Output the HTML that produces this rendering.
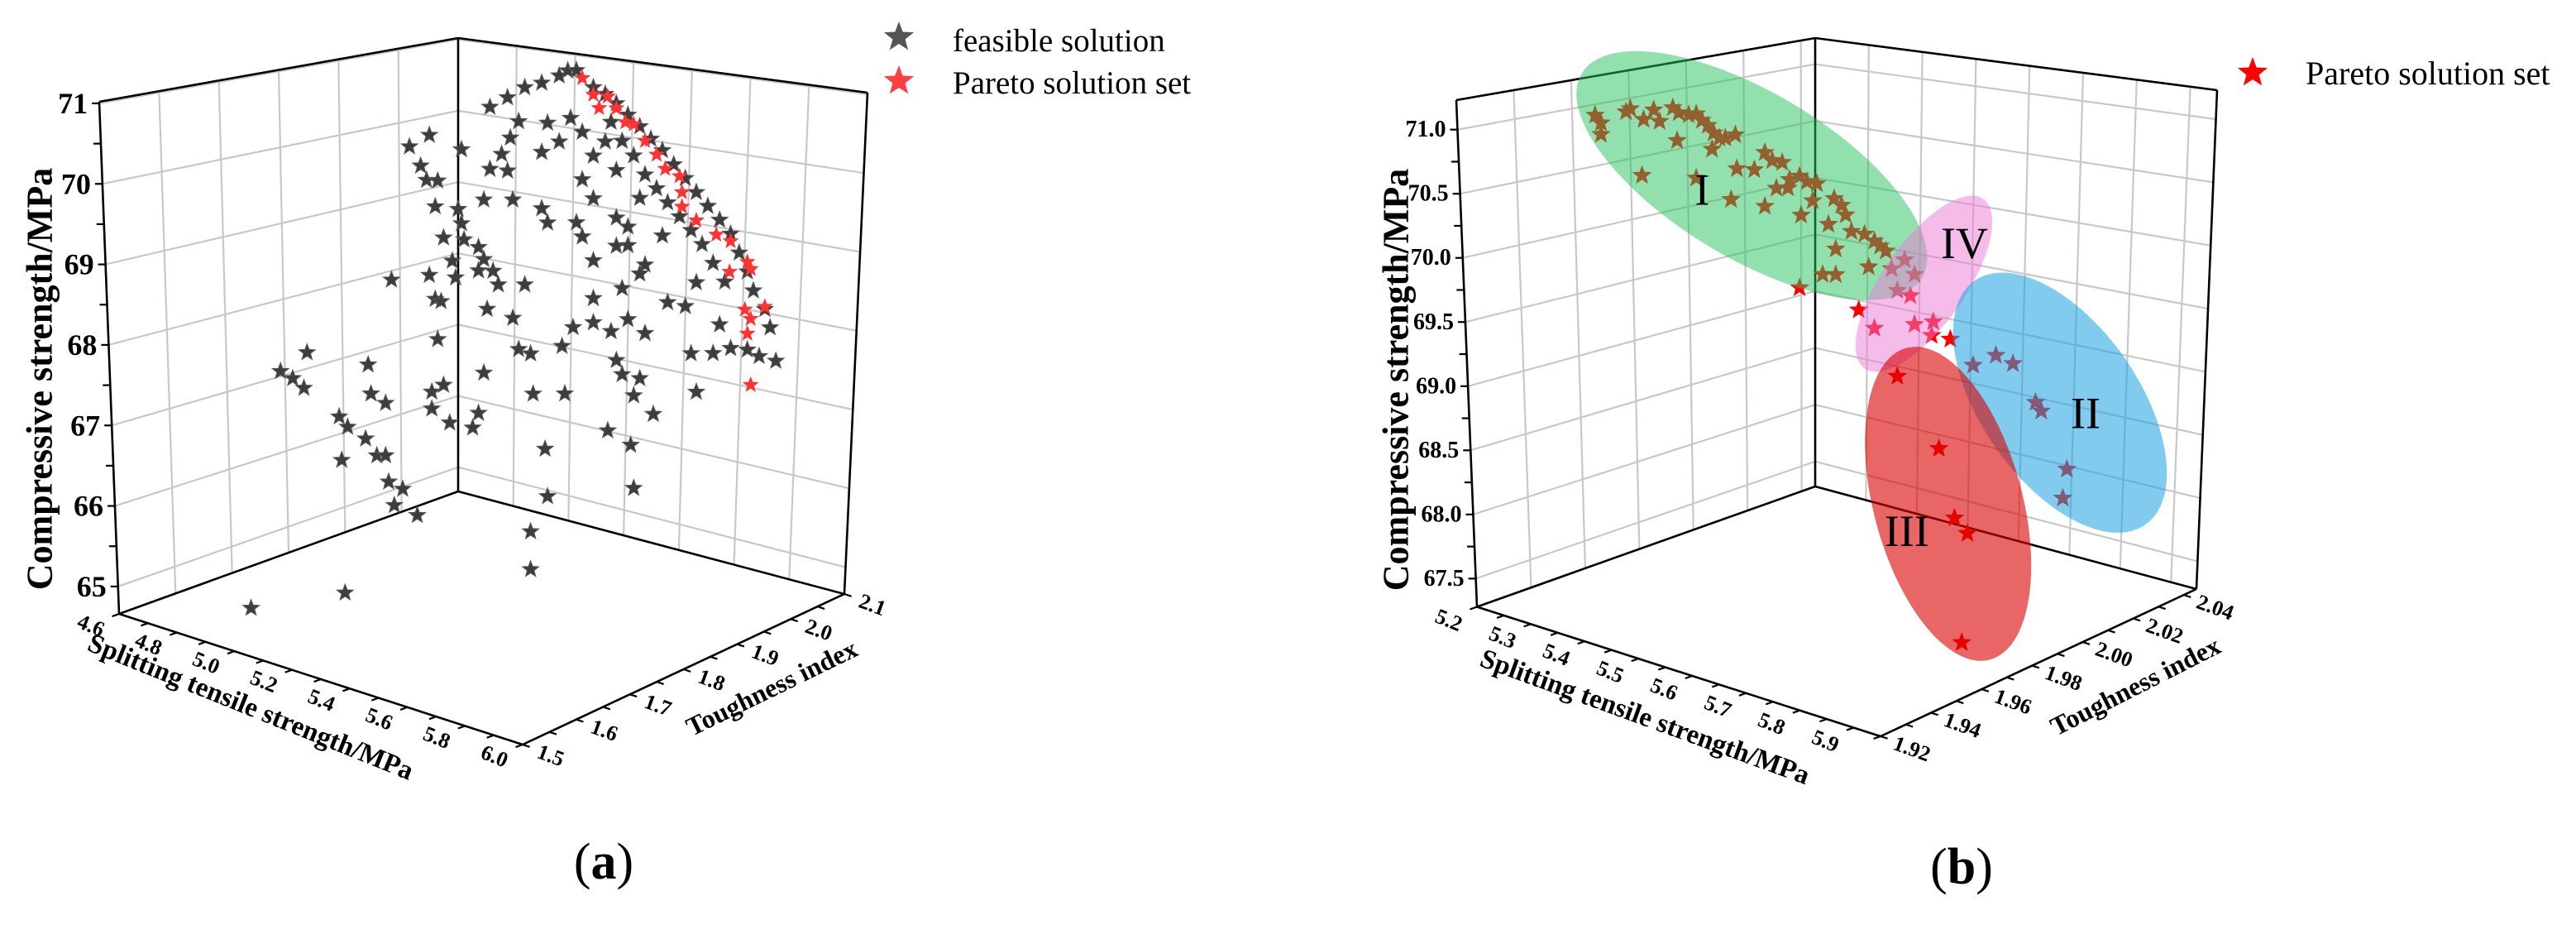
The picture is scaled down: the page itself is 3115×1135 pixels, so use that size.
<!DOCTYPE html>
<html><head><meta charset="utf-8"><title>Pareto 3D scatter</title>
<style>html,body{margin:0;padding:0;background:#fff}svg{display:block}text{font-family:"Liberation Serif",serif}</style>
</head><body>
<svg id="fig" xmlns="http://www.w3.org/2000/svg" width="3115" height="1135" viewBox="0 0 3115 1135">
<rect x="0" y="0" width="3115" height="1135" fill="#fff"/>
<g id="chartA"></g>
<g id="chartB"></g>
<g>
<path id="legA1" fill="#555"/>
<text x="1152" y="62" font-size="39">feasible solution</text>
<path id="legA2" fill="#ff4040"/>
<text x="1152" y="113" font-size="39">Pareto solution set</text>
</g>
<g>
<path id="legB1" fill="#ff0000"/>
<text x="2788" y="102" font-size="40">Pareto solution set</text>
</g>
<text x="730" y="1062" font-size="62" text-anchor="middle">(<tspan font-weight="bold">a</tspan>)</text>
<text x="2372" y="1068" font-size="62" text-anchor="middle">(<tspan font-weight="bold">b</tspan>)</text>
</svg>
<script>
// ---------- chart (a) data ----------
const aGrayS=[5.308,5.341,5.375,5.408,5.441,5.458,5.475,5.508,5.531,5.553,5.575,5.598,5.620,5.642,5.665,5.687,5.709,5.731,5.754,5.776,5.793,5.809,5.821,5.843,5.854,5.865,5.832,5.809,
5.542,5.564,5.586,5.609,5.631,5.653,5.676,5.698,5.720,5.742,5.765,5.553,5.531,5.508,5.486,5.464,5.441,5.419,5.408,5.486,5.508,5.598,5.575,5.553,5.642,5.609,5.709,5.687,5.754,5.776,5.698,5.742,
5.152,5.191,5.252,5.174,5.185,5.207,5.202,5.246,5.252,5.218,5.257,5.235,5.285,5.296,5.191,5.241,5.285,5.313,5.324,5.202,5.213,5.118,5.375,5.302,5.352,5.207,5.363,5.386,5.447,5.296,5.218,5.196,5.391,5.453,
5.341,5.352,5.419,5.486,5.553,5.469,5.508,5.542,5.575,5.609,5.553,5.564,5.598,5.586,5.625,5.709,5.536,5.581,5.414,5.419,5.586,5.386,5.386,5.029,4.850,5.285,5.274,5.230,5.196,5.308,5.296,5.330,5.363,5.347,5.408,5.475,5.508,5.564,5.598,5.653,5.508,5.575,
4.906,4.929,4.951,4.956,5.073,5.079,5.107,5.018,5.034,5.068,5.090,5.107,5.023,5.112,5.140,5.124,5.168];
const aGrayT=[1.803,1.818,1.832,1.846,1.861,1.868,1.875,1.889,1.899,1.908,1.918,1.928,1.937,1.947,1.956,1.966,1.975,1.985,1.995,2.004,2.011,2.018,2.023,2.033,2.037,2.042,2.028,2.018,
1.904,1.913,1.923,1.932,1.942,1.951,1.961,1.971,1.980,1.989,1.999,1.908,1.899,1.889,1.880,1.870,1.861,1.851,1.846,1.880,1.889,1.928,1.918,1.908,1.947,1.932,1.975,1.966,1.995,2.004,1.971,1.989,
1.737,1.753,1.780,1.746,1.751,1.760,1.758,1.777,1.780,1.765,1.782,1.772,1.794,1.798,1.753,1.775,1.794,1.806,1.810,1.758,1.763,1.722,1.832,1.801,1.822,1.760,1.827,1.837,1.863,1.798,1.765,1.755,1.839,1.865,
1.818,1.822,1.851,1.880,1.908,1.872,1.889,1.904,1.918,1.932,1.908,1.913,1.928,1.923,1.939,1.975,1.901,1.920,1.849,1.851,1.923,1.837,1.837,1.684,1.607,1.794,1.789,1.770,1.755,1.803,1.798,1.813,1.827,1.820,1.846,1.875,1.889,1.913,1.928,1.951,1.889,1.918,
1.631,1.641,1.650,1.653,1.703,1.705,1.717,1.679,1.686,1.701,1.710,1.717,1.681,1.720,1.731,1.724,1.743];
const aGrayZ=[70.92,71.03,71.15,71.20,71.28,71.34,71.34,71.12,71.03,70.91,70.76,70.61,70.45,70.30,70.12,69.94,69.76,69.58,69.40,69.22,68.98,68.74,68.50,68.26,68.03,67.61,67.68,67.77,
70.68,70.44,70.25,70.01,69.83,69.65,69.47,69.29,69.11,68.87,68.63,70.08,70.44,70.27,70.57,70.75,70.46,70.70,70.34,69.98,69.74,69.72,69.37,69.14,69.24,68.89,68.64,68.35,68.10,67.80,67.76,67.75,
70.45,70.59,70.40,70.21,70.03,70.02,69.70,69.66,69.48,69.31,69.28,69.02,69.18,69.03,68.85,68.81,68.89,68.88,68.71,68.55,68.52,68.80,68.70,68.41,68.29,68.05,67.90,67.84,67.92,67.62,67.48,67.40,67.34,67.33,
70.12,69.76,69.46,69.27,69.49,68.15,68.20,68.08,68.22,68.04,67.72,67.54,67.48,67.27,67.03,67.28,66.85,66.66,66.65,66.06,66.12,65.63,65.16,64.92,64.74,67.12,66.94,67.01,67.19,70.15,69.77,70.33,70.73,70.53,69.64,69.45,68.50,68.61,68.78,68.41,68.97,69.14,
67.68,67.59,67.47,67.91,67.75,67.39,67.27,67.11,66.98,66.83,66.62,66.62,66.57,66.29,66.20,66.00,65.87];
const aParetoS=[5.486,5.508,5.519,5.536,5.553,5.570,5.586,5.609,5.631,5.648,5.676,5.681,5.681,5.709,5.748,5.776,5.809,5.815,5.774,5.804,5.815,5.843,5.809,5.815];
const aParetoT=[1.880,1.889,1.894,1.901,1.908,1.916,1.923,1.932,1.942,1.949,1.961,1.963,1.963,1.975,1.992,2.004,2.018,2.021,2.003,2.016,2.021,2.033,2.018,2.021];
const aParetoZ=[71.24,71.03,70.86,71.00,70.85,70.67,70.64,70.43,70.25,70.07,69.97,69.77,69.59,69.41,69.22,69.13,68.86,68.77,68.75,68.27,68.15,68.29,67.97,67.33];
const aSplitTicks=[4.6,4.8,5.0,5.2,5.4,5.6,5.8,6.0];
const aSplitLabels=["4.6","4.8","5.0","5.2","5.4","5.6","5.8","6.0"];
const aToughTicks=[1.5,1.6,1.7,1.8,1.9,2.0,2.1];
const aToughLabels=["1.5","1.6","1.7","1.8","1.9","2.0","2.1"];
const aZTicks=[65,66,67,68,69,70,71];
const aZLabels=["65","66","67","68","69","70","71"];

// ---------- chart (b) data ----------
const bS=[5.320,5.326,5.326,5.353,5.356,5.371,5.380,5.386,5.401,5.407,5.416,5.425,5.431,5.437,5.443,5.449,5.455,5.464,5.440,5.404,5.368,5.425,5.467,5.485,5.495,5.504,5.513,5.522,5.531,5.540,5.549,5.507,5.519,5.461,5.495,5.534,5.546,5.561,5.567,5.576,5.579,5.585,5.600,5.609,5.615,5.621,5.603,5.570,5.555,5.570,5.531,
5.627,5.642,5.651,5.633,5.648,5.594,5.609,5.651,5.672,5.669,5.690,
5.714,5.738,5.756,5.780,5.786,5.811,5.808,
5.633,5.678,5.693,5.708,5.702];
const bT=[1.940,1.941,1.941,1.945,1.946,1.948,1.950,1.951,1.953,1.954,1.956,1.957,1.958,1.959,1.960,1.961,1.962,1.964,1.960,1.954,1.948,1.957,1.964,1.967,1.969,1.970,1.972,1.973,1.975,1.976,1.978,1.971,1.973,1.963,1.969,1.975,1.977,1.980,1.981,1.982,1.983,1.984,1.986,1.988,1.989,1.990,1.987,1.981,1.979,1.981,1.975,
1.991,1.993,1.995,1.992,1.994,1.985,1.988,1.995,1.998,1.998,2.001,
2.005,2.009,2.012,2.016,2.017,2.022,2.021,
1.992,1.999,2.002,2.004,2.003];
const bZ=[71.12,71.06,70.97,71.15,71.17,71.09,71.16,71.07,71.18,71.14,71.12,71.13,71.08,71.04,70.98,70.94,70.94,70.96,70.85,70.92,70.65,70.63,70.70,70.69,70.82,70.76,70.74,70.61,70.63,70.59,70.57,70.54,70.54,70.46,70.40,70.33,70.44,70.25,70.45,70.40,70.32,70.19,70.17,70.11,70.07,70.03,69.91,70.06,69.86,69.86,69.76,
69.89,69.96,69.84,69.72,69.68,69.58,69.43,69.45,69.47,69.36,69.33,
69.12,69.19,69.12,68.81,68.74,68.27,68.05,
69.05,68.48,67.93,67.81,66.96];
const bGroup=[1,1,1,1,1,1,1,1,1,1,1,1,1,1,1,1,1,1,1,1,1,1,1,1,1,1,1,1,1,1,1,1,1,1,1,1,1,1,1,1,1,1,1,1,1,1,1,1,1,1,1,
4,4,4,4,4,4,4,4,4,4,4,
2,2,2,2,2,2,2,
3,3,3,3,3];
const bGroupNames=["I","II","III","IV"];
const bSplitTicks=[5.2,5.3,5.4,5.5,5.6,5.7,5.8,5.9];
const bSplitLabels=["5.2","5.3","5.4","5.5","5.6","5.7","5.8","5.9"];
const bToughTicks=[1.92,1.94,1.96,1.98,2.00,2.02,2.04];
const bToughLabels=["1.92","1.94","1.96","1.98","2.00","2.02","2.04"];
const bZTicks=[67.5,68.0,68.5,69.0,69.5,70.0,70.5,71.0];
const bZLabels=["67.5","68.0","68.5","69.0","69.5","70.0","70.5","71.0"];

// ---------- geometry ----------
const NS="http://www.w3.org/2000/svg";
const GA={L:[144,742],F:[632,900],R:[1021,718],B:[554,594],Lt:[120,123],Bt:[554,46],Rt:[1049,112],s0:4.6,s1:6.0,t0:1.5,t1:2.1,z0:64.66,z1:71.02,k:97.3};
const GB={L:[1786,733.5],F:[2274,890],R:[2656,712],B:[2195,588],Lt:[1761,121],Bt:[2195,46],Rt:[2681,109],s0:5.2,s1:5.95,t0:1.92,t1:2.045,z0:67.28,z1:71.23,k:155};
function floorPt(G,s,t){const a=(s-G.s0)/(G.s1-G.s0),b=(t-G.t0)/(G.t1-G.t0);
 const w=[(1-a)*(1-b),a*(1-b),a*b,(1-a)*b];const P=[G.L,G.F,G.R,G.B];
 let x=0,y=0;for(let i=0;i<4;i++){x+=w[i]*P[i][0];y+=w[i]*P[i][1];}return [x,y];}
function proj(G,s,t,z){const f=floorPt(G,s,t);return [f[0],f[1]-(z-G.z0)*G.k];}
function lerp(p,q,f){return [p[0]+(q[0]-p[0])*f,p[1]+(q[1]-p[1])*f];}
function edgeZ(G,bot,top,z){return lerp(bot,top,(z-G.z0)/(G.z1-G.z0));}
function el(parent,tag,attrs){const e=document.createElementNS(NS,tag);for(const k in attrs)e.setAttribute(k,attrs[k]);parent.appendChild(e);return e;}
function starD(cx,cy,r){let d="";for(let i=0;i<10;i++){const rr=i%2?r*0.42:r;const an=-Math.PI/2+i*Math.PI/5;d+=(i?"L":"M")+(cx+rr*Math.cos(an)).toFixed(1)+","+(cy+rr*Math.sin(an)).toFixed(1);}return d+"Z";}
function line(g,p,q,stroke,w){return el(g,"line",{x1:p[0],y1:p[1],x2:q[0],y2:q[1],stroke:stroke,"stroke-width":w});}
function range(a,b,st){const r=[];for(let v=a;v<=b+1e-9;v+=st)r.push(+v.toFixed(4));return r;}

function drawFrame(g,G,zTicks,zLabels,zMinor,splitTicks,splitLabels,splitMinor,toughTicks,toughLabels,toughMinor,opt){
 const grid="#c8c8c8";
 toughTicks.forEach(t=>{const b=(t-G.t0)/(G.t1-G.t0);if(b<=0.01||b>=0.99)return;
  const l=line(g,floorPt(G,G.s0,t),lerp(G.Lt,G.Bt,b),grid,2.2);
  
  });
 splitTicks.forEach(s=>{const a=(s-G.s0)/(G.s1-G.s0);if(a<=0.01||a>=0.99)return;
  const l=line(g,floorPt(G,s,G.t1),lerp(G.Bt,G.Rt,a),grid,2.2);
  
  });
 zTicks.forEach(z=>{const pl=edgeZ(G,G.L,G.Lt,z),pb=edgeZ(G,G.B,G.Bt,z),pr=edgeZ(G,G.R,G.Rt,z);
  const l1=line(g,pl,pb,grid,2.2);
  
  
  const l2=line(g,pb,pr,grid,2.2);
  
  });
 const edges=[[G.L,G.Lt],[G.B,G.Bt],[G.R,G.Rt],[G.Lt,G.Bt],[G.Bt,G.Rt],[G.L,G.B],[G.B,G.R],[G.L,G.F],[G.F,G.R]];
 edges.forEach(e=>{const l=line(g,e[0],e[1],"#000",2.6);
  
  });
 const dL=[G.L[0]-G.B[0],G.L[1]-G.B[1]],nL=Math.hypot(dL[0],dL[1]);
 const dT=[G.F[0]-G.L[0],G.F[1]-G.L[1]],nT=Math.hypot(dT[0],dT[1]);
 splitMinor.forEach(s=>{const p=floorPt(G,s,G.t0);
  const l=line(g,p,[p[0]+dL[0]/nL*9,p[1]+dL[1]/nL*9],"#000",2.2);
  
  });
 splitTicks.forEach((s,i)=>{const p=floorPt(G,s,G.t0);
  const tx=el(g,"text",{x:p[0]+opt.sOff[0],y:p[1]+opt.sOff[1],"font-size":opt.tf,"font-weight":"bold","text-anchor":"middle","dominant-baseline":"central",transform:`rotate(22 ${p[0]+opt.sOff[0]} ${p[1]+opt.sOff[1]})`});
  tx.textContent=splitLabels[i];
  
  });
 toughMinor.forEach(t=>{const p=floorPt(G,G.s1,t);
  const l=line(g,p,[p[0]+dT[0]/nT*9,p[1]+dT[1]/nT*9],"#000",2.2);
  
  });
 toughTicks.forEach((t,i)=>{const p=floorPt(G,G.s1,t);
  const tx=el(g,"text",{x:p[0]+opt.tOff[0],y:p[1]+opt.tOff[1],"font-size":opt.tf,"font-weight":"bold","text-anchor":"middle","dominant-baseline":"central",transform:`rotate(20 ${p[0]+opt.tOff[0]} ${p[1]+opt.tOff[1]})`});
  tx.textContent=toughLabels[i];
  
  });
 zMinor.forEach(z=>{const p=edgeZ(G,G.L,G.Lt,z);
  const l=line(g,p,[p[0]-9,p[1]],"#000",2.2);
  
  });
 zTicks.forEach((z,i)=>{const p=edgeZ(G,G.L,G.Lt,z);
  const tx=el(g,"text",{x:p[0]-14,y:p[1],"font-size":opt.zf,"font-weight":"bold","text-anchor":"end","dominant-baseline":"central"});
  tx.textContent=zLabels[i];
  
  });
 const t1=el(g,"text",{x:opt.zt[0],y:opt.zt[1],"font-size":44,"font-weight":"bold","text-anchor":"middle","dominant-baseline":"central",transform:`rotate(-90 ${opt.zt[0]} ${opt.zt[1]})`});
 t1.textContent="Compressive strength/MPa";
 
 
 const t2=el(g,"text",{x:opt.st[0],y:opt.st[1],"font-size":33,"font-weight":"bold","text-anchor":"middle","dominant-baseline":"central",transform:`rotate(${opt.st[2]} ${opt.st[0]} ${opt.st[1]})`});
 t2.textContent="Splitting tensile strength/MPa";
 
 
 const t3=el(g,"text",{x:opt.tt[0],y:opt.tt[1],"font-size":32,"font-weight":"bold","text-anchor":"middle","dominant-baseline":"central",transform:`rotate(${opt.tt[2]} ${opt.tt[0]} ${opt.tt[1]})`});
 t3.textContent="Toughness index";
 
 
}

// ---------- chart (a) ----------
const gA=document.getElementById("chartA");
drawFrame(gA,GA,aZTicks,aZLabels,range(64.5,71,0.5).filter(z=>z>=GA.z0&&z<=GA.z1),aSplitTicks,aSplitLabels,range(4.6,6.0,0.1),aToughTicks,aToughLabels,range(1.5,2.1,0.05),
 {sOff:[-34,14],tOff:[34,13],tf:26,zf:36,zt:[48,458],st:[303,855,22],tt:[933,831,-26]});
const n1=Math.min(aGrayS.length,aGrayT.length,aGrayZ.length);
for(let i=0;i<n1;i++){const p=proj(GA,aGrayS[i],aGrayT[i],aGrayZ[i]);
 const st=el(gA,"path",{d:starD(p[0],p[1],10.5),fill:"#3d3d3d",stroke:"#5a5a5a","stroke-width":1});
 
 }
const n2=Math.min(aParetoS.length,aParetoT.length,aParetoZ.length);
for(let i=0;i<n2;i++){const p=proj(GA,aParetoS[i],aParetoT[i],aParetoZ[i]);
 const st=el(gA,"path",{d:starD(p[0],p[1],10.5),fill:"#ff3333"});
 
 }

// ---------- chart (b) ----------
const gB=document.getElementById("chartB");
drawFrame(gB,GB,bZTicks,bZLabels,range(67.5,71.25,0.25).filter(z=>z<=GB.z1),bSplitTicks,bSplitLabels,range(5.2,5.95,0.05),bToughTicks,bToughLabels,range(1.92,2.045,0.01),
 {sOff:[-34,16],tOff:[38,15],tf:26,zf:28,zt:[1688,459],st:[1989,867,20],tt:[2582,829,-27]});
const n3=Math.min(bS.length,bT.length,bZ.length);
const cent={};
for(let i=0;i<n3;i++){const p=proj(GB,bS[i],bT[i],bZ[i]);
 const g=bGroup[i];if(!cent[g])cent[g]=[0,0,0];cent[g][0]+=p[0];cent[g][1]+=p[1];cent[g][2]++;
 const st=el(gB,"path",{d:starD(p[0],p[1],12.5),fill:"#ff0000"});
 
 }
const ellStyle={1:{rx:240,ry:100,rot:31,fill:"#27c260",op:0.5,dx:0,dy:0,lx:-60,ly:17},
 4:{rx:125,ry:50,rot:-55,fill:"#ec7ad6",op:0.5,dx:20,dy:-25,lx:49,ly:-49},
 2:{rx:180,ry:95,rot:55,fill:"#1aa3e0",op:0.55,dx:40,dy:-8,lx:31,ly:13},
 3:{rx:195,ry:90,rot:75,fill:"#d90000",op:0.6,dx:5,dy:0,lx:-50,ly:33}};
[1,4,2,3].forEach(g=>{if(!cent[g])return;const c=[cent[g][0]/cent[g][2]+ellStyle[g].dx,cent[g][1]/cent[g][2]+ellStyle[g].dy];const S=ellStyle[g];
 const e=el(gB,"ellipse",{cx:c[0],cy:c[1],rx:S.rx,ry:S.ry,fill:S.fill,"fill-opacity":S.op,transform:`rotate(${S.rot} ${c[0]} ${c[1]})`});
 
 
 const t=el(gB,"text",{x:c[0]+S.lx,y:c[1]+S.ly,"font-size":54,"text-anchor":"middle","dominant-baseline":"central"});
 t.textContent=bGroupNames[g-1];
 
 });

document.getElementById("legA1").setAttribute("d",starD(1087,45,19));
document.getElementById("legA2").setAttribute("d",starD(1087,98,19));
document.getElementById("legB1").setAttribute("d",starD(2724,88,19));
</script>
</body></html>
